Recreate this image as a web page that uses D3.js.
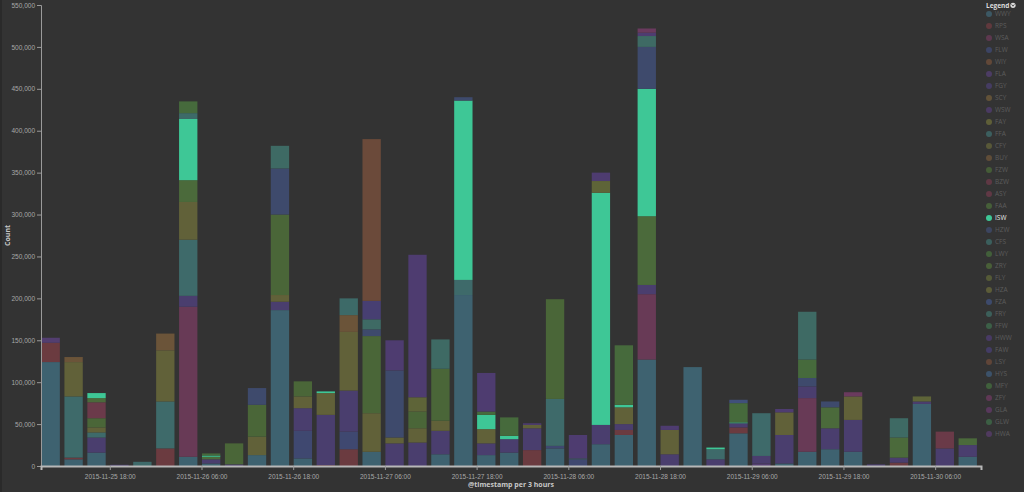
<!DOCTYPE html>
<html>
<head>
<meta charset="utf-8">
<script src="https://cdn.jsdelivr.net/npm/d3@7"></script>
<style>
  html, body { margin: 0; padding: 0; background: #333333; }
  svg { display: block; font-family: "Open Sans", sans-serif; }
</style>
</head>
<body>
<div id="chart"></div>
<script>
'use strict';

// 3-hour buckets, 2015-11-25 09:00 .. 2015-11-30 09:00 (41 buckets)
var bucketStart = "2015-11-25 09:00";
var bucketCount = 41;
var bucketHours = 3;

// legend order = stack order (bottom to top)
var seriesNames = ["WWY","RPS","WSA","FLW","WIY","FLA","FGY","SCY","WSW","FAY",
  "FFA","CFY","BUY","FZW","BZW","ASY","FAA","ISW","HZW","CFS","LWY","ZRY","FLY",
  "HZA","FZA","FRY","FFW","HWW","FAW","LSY","HYS","MFY","ZFY","GLA","GLW","HWA"];

var seriesColors = ["#3e6270","#6b3b40","#683a56","#3f4870","#6e4e3a","#533e70",
  "#4a3e6e","#6e5a3a","#503c6e","#6a6a3a","#3e6a6a","#616139","#6b5439","#4a6638",
  "#6a3a48","#6b3a4a","#4b6a3b","#3ec796","#3e4a6c","#3d6a68","#466a3c","#4f6a3a",
  "#5e6438","#66663a","#40507a","#3e6a64","#3e6a4c","#4e3c70","#473f72","#6b4a3a",
  "#3e5a78","#436c3e","#6a3a5e","#623a66","#3e6a48","#573c6a"];

var highlighted = "ISW";

// counts in thousands, keyed by bucket index
var WWY = {0:124, 1:8, 2:16, 6:11, 7:3, 9:13, 10:186, 11:9, 14:17, 17:14, 18:204, 19:13,
  20:16, 22:21, 24:26, 25:37, 26:127, 28:118, 30:39, 32:3, 33:17, 34:20, 35:17, 38:74, 40:11};
var RPS = {0:23, 1:2, 5:21, 12:1, 13:20, 21:19, 25:6, 30:7, 37:4};
var WSA = {6:179, 26:78, 33:64};
var FLW = {11:33, 13:21, 22:3, 23:8};
var FLA = {0:6, 31:3};
var FGY = {2:18, 3:1.5, 6:13, 7:5, 8:2, 10:10, 11:27, 12:60, 13:49, 15:27, 16:28, 17:28,
  19:14, 20:16, 21:26, 24:23, 25:7, 26:11, 27:14, 29:8, 30:5, 31:9, 32:34, 33:14, 34:25,
  35:38, 36:2, 37:6, 38:3, 39:21, 40:14};
var FFA = {1:73, 2:6, 4:5, 5:56, 6:67, 18:18, 22:56, 23:1, 29:12, 31:51};
var CFY = {1:41, 2:6, 5:61, 6:45, 9:22, 10:8, 11:14, 12:26, 13:70, 14:46, 15:7, 16:17,
  17:12, 19:17, 21:4, 25:20, 27:29, 32:27, 35:28};
var BUY = {1:6, 5:20, 13:20};
var FZW = {2:11, 8:25, 9:38, 10:96, 11:18, 14:92, 16:20, 17:62, 22:119};
var BZW = {39:20};
var ASY = {2:19};
var FAA = {2:5, 6:26, 7:3, 26:82, 34:25, 37:24, 40:8};
var ISW = {2:6, 6:73, 7:1.5, 12:2, 18:214, 19:17, 20:4, 24:277, 25:3, 26:152, 29:2, 30:1};
var HZW = {9:20, 10:55, 14:8, 15:80, 18:4, 26:50, 33:10, 34:7};
var CFS = {6:7, 13:20};
var LWY = {6:14, 7:2.5, 19:4, 20:22, 25:71, 30:23, 33:22};
var FLY = {16:17, 24:14, 38:6};
var FZA = {30:4};
var FRY = {10:27, 14:12, 17:35, 26:13, 33:57, 37:23};
var HWW = {15:36, 16:170, 19:46, 21:2, 23:28, 24:10, 26:4, 27:5, 32:4};
var FAW = {14:22};
var LSY = {14:193};
var ZFY = {26:5, 35:5};

var seriesData = {WWY:WWY, RPS:RPS, WSA:WSA, FLW:FLW, FLA:FLA, FGY:FGY, FFA:FFA, CFY:CFY,
  BUY:BUY, FZW:FZW, BZW:BZW, ASY:ASY, FAA:FAA, ISW:ISW, HZW:HZW, CFS:CFS, LWY:LWY,
  FLY:FLY, FZA:FZA, FRY:FRY, HWW:HWW, FAW:FAW, LSY:LSY, ZFY:ZFY};

var yTicks = [0,50000,100000,150000,200000,250000,300000,350000,400000,450000,500000,550000];

var W = 1024, H = 492;
var margin = {top: 5, right: 43, bottom: 26, left: 41};

var parse = d3.timeParse("%Y-%m-%d %H:%M");
var t0 = parse(bucketStart);
var buckets = d3.range(bucketCount).map(i => d3.timeHour.offset(t0, i * bucketHours));
var tEnd = d3.timeHour.offset(t0, bucketCount * bucketHours);

var rows = buckets.map(function(d, i){
  var r = {date: d};
  seriesNames.forEach(function(s){
    var src = seriesData[s];
    r[s] = src && src[i] ? src[i] * 1000 : 0;
  });
  return r;
});

var stacked = d3.stack().keys(seriesNames)(rows);

var x = d3.scaleTime().domain([t0, tEnd]).range([margin.left, W - margin.right]);
var y = d3.scaleLinear().domain([0, 550000]).range([H - margin.bottom, margin.top]);
var color = d3.scaleOrdinal().domain(seriesNames).range(seriesColors);

var step = x(buckets[1]) - x(buckets[0]);
var barW = step * 0.8;

var svg = d3.select("#chart").append("svg")
  .attr("width", W)
  .attr("height", H);

svg.append("rect").attr("width", W).attr("height", H).attr("fill", "#333333");
svg.append("rect").attr("x", 0).attr("y", 0).attr("width", 2).attr("height", H).attr("fill", "#2a2a2a");

// bars
svg.append("g").selectAll("g")
  .data(stacked)
  .join("g")
    .attr("fill", d => color(d.key))
  .selectAll("rect")
  .data(d => d.filter(p => p[1] - p[0] > 0))
  .join("rect")
    .attr("x", d => x(d.data.date) + 0.5)
    .attr("y", d => y(d[1]))
    .attr("width", barW)
    .attr("height", d => y(d[0]) - y(d[1]));

// y axis
var yAxis = svg.append("g")
  .attr("transform", "translate(" + margin.left + ",0)")
  .call(d3.axisLeft(y).tickValues(yTicks).tickFormat(d3.format(",")).tickSize(4).tickPadding(2));
yAxis.select(".domain").attr("stroke", "#9a9a9a");
yAxis.selectAll(".tick line").attr("stroke", "#9a9a9a");
yAxis.selectAll("text").attr("fill", "#a8a8a8").style("font-size", "6.5px");

// x axis
var xTickValues = d3.timeHour.range(t0, tEnd).filter(d => d.getHours() % 12 === 6);
var xAxis = svg.append("g")
  .attr("transform", "translate(0," + (H - margin.bottom) + ")")
  .call(d3.axisBottom(x).tickValues(xTickValues).tickFormat(d3.timeFormat("%Y-%m-%d %H:%M")).tickSize(4).tickPadding(4));
xAxis.select(".domain").attr("stroke", "#b8b8b8").attr("stroke-width", 2);
xAxis.selectAll(".tick line").attr("stroke", "#9a9a9a");
xAxis.selectAll("text").attr("fill", "#a8a8a8").style("font-size", "6.5px");

// axis titles
svg.append("text")
  .attr("transform", "translate(10," + (H - margin.bottom + margin.top) / 2 + ") rotate(-90)")
  .attr("text-anchor", "middle")
  .style("font-size", "7px")
  .style("font-weight", "bold")
  .attr("fill", "#c8c8c8")
  .text("Count");

svg.append("text")
  .attr("x", (margin.left + W - margin.right) / 2)
  .attr("y", H - 5)
  .attr("text-anchor", "middle")
  .style("font-size", "7px")
  .style("font-weight", "bold")
  .attr("fill", "#c8c8c8")
  .text("@timestamp per 3 hours");

// legend
var legend = svg.append("g").attr("transform", "translate(985,0)");
legend.append("text")
  .attr("x", 1).attr("y", 7.5)
  .style("font-size", "6.5px")
  .style("font-weight", "bold")
  .attr("fill", "#dddddd")
  .text("Legend");
legend.append("circle")
  .attr("cx", 28).attr("cy", 5.3).attr("r", 2.6)
  .attr("fill", "#dddddd");
legend.append("path")
  .attr("d", "M26.6,4.4 L28,6.2 L29.4,4.4")
  .attr("fill", "none").attr("stroke", "#333").attr("stroke-width", 0.8);

var items = legend.selectAll(".item")
  .data(seriesNames)
  .join("g")
    .attr("class", "item")
    .attr("transform", (d, i) => "translate(0," + (14 + i * 12) + ")");

items.append("circle")
  .attr("cx", 4).attr("cy", 0).attr("r", 3)
  .attr("fill", d => color(d))
  .attr("opacity", d => d === highlighted ? 1 : 0.8);

items.append("text")
  .attr("x", 10).attr("y", 2.4)
  .style("font-size", "6.5px")
  .attr("fill", d => d === highlighted ? "#e8e8e8" : "#5c5c5c")
  .text(d => d);
</script>
</body>
</html>
